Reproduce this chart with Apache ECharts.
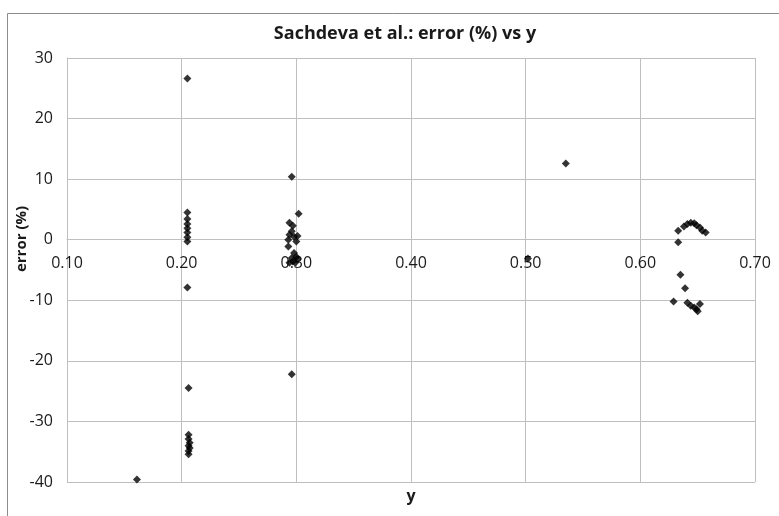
<!DOCTYPE html>
<html>
<head>
<meta charset="utf-8">
<script src="https://cdn.jsdelivr.net/npm/echarts@6/dist/echarts.min.js"></script>
<style>
html,body{margin:0;padding:0;background:#fff;}
#chart{width:779px;height:516px;}
</style>
</head>
<body>
<div id="chart"></div>
<script>
var titleText = 'Sachdeva et al.: error (%) vs y';
var xAxisTitle = 'y';
var yAxisTitle = 'error (%)';

var yValues = [
  0.161, 0.205, 0.205, 0.205, 0.205, 0.205, 0.205, 0.205, 0.205, 0.205,
  0.206, 0.206, 0.206, 0.207, 0.206, 0.207, 0.206, 0.206,
  0.296, 0.302, 0.294, 0.297, 0.296, 0.294, 0.298, 0.293, 0.300, 0.301,
  0.293, 0.298, 0.300, 0.296, 0.297, 0.294, 0.299, 0.301, 0.296,
  0.502, 0.535,
  0.629, 0.633, 0.633, 0.635, 0.639, 0.638, 0.641, 0.644, 0.647, 0.649,
  0.652, 0.654, 0.657, 0.641, 0.644, 0.647, 0.650, 0.652, 0.649
];
var errorValues = [
  -39.6, 26.6, 4.5, 3.4, 2.6, 1.9, 1.2, 0.4, -0.3, -7.9,
  -24.5, -32.2, -32.9, -33.5, -34.0, -34.4, -34.9, -35.4,
  10.4, 4.3, 2.8, 2.3, 1.4, 0.8, 0.5, 0.0, -0.3, 0.6,
  -1.1, -2.2, -2.8, -3.0, -3.6, -3.8, -3.8, -3.2, -22.2,
  -3.1, 12.6,
  -10.2, 1.5, -0.4, -5.8, -8.0, 2.2, 2.6, 2.8, 2.7, 2.4,
  2.0, 1.5, 1.2, -10.4, -10.9, -11.2, -11.8, -10.6, -11.5
];
var xTicks = {min: 0.1, max: 0.7, interval: 0.1};
var yTicks = {min: -40, max: 30, interval: 10};

var points = yValues.map(function (v, i) { return [v, errorValues[i]]; });

var gridTop = 58, gridBottom = 34, chartH = 516;
var plotH = chartH - gridTop - gridBottom;
// distance from the plot bottom to the y = 0 line, from the axis range
var zeroOffset = plotH * (0 - yTicks.min) / (yTicks.max - yTicks.min);

var chart = echarts.init(document.getElementById('chart'), null, {renderer: 'canvas'});
var labelFont = {fontFamily: 'Open Sans', fontSize: 16, color: '#1a1a1a'};
chart.setOption({
  animation: false,
  backgroundColor: '#fff',
  title: {
    text: titleText,
    left: 400,
    textAlign: 'center',
    top: 20,
    textStyle: {fontFamily: 'Open Sans', fontWeight: 'bold', fontSize: 18, color: '#1a1a1a'}
  },
  graphic: [{
    type: 'rect',
    shape: {x: 7.5, y: 13.5, width: 900, height: 700},
    style: {fill: null, stroke: '#8c8c8c', lineWidth: 1},
    silent: true
  }],
  grid: {left: 67, right: 24, top: gridTop, bottom: gridBottom, containLabel: false, outerBoundsMode: 'none'},
  xAxis: {
    type: 'value',
    position: 'bottom',
    offset: -zeroOffset,
    min: xTicks.min, max: xTicks.max, interval: xTicks.interval,
    name: xAxisTitle,
    nameLocation: 'middle',
    nameGap: 249,
    nameMoveOverlap: false,
    nameTextStyle: {fontFamily: 'Open Sans', fontWeight: 'bold', fontSize: 16, color: '#1a1a1a'},
    axisLine: {onZero: false, lineStyle: {color: '#bfbfbf'}},
    axisTick: {show: false},
    splitLine: {show: true, lineStyle: {color: '#bfbfbf'}},
    axisLabel: Object.assign({margin: 16, formatter: function (v) { return v.toFixed(2); }}, labelFont)
  },
  yAxis: {
    type: 'value',
    min: yTicks.min, max: yTicks.max, interval: yTicks.interval,
    name: yAxisTitle,
    nameLocation: 'middle',
    nameRotate: 90,
    nameGap: 38,
    nameMoveOverlap: false,
    nameTextStyle: {fontFamily: 'Open Sans', fontWeight: 'bold', fontSize: 15, color: '#1a1a1a', padding: [0, 0, 0, 62]},
    axisLine: {show: true, onZero: false, lineStyle: {color: '#bfbfbf'}},
    axisTick: {show: false},
    splitLine: {show: true, lineStyle: {color: '#bfbfbf'}},
    axisLabel: Object.assign({margin: 14}, labelFont)
  },
  series: [{
    type: 'scatter',
    data: points,
    symbol: 'diamond',
    symbolSize: 8,
    itemStyle: {color: '#000'}
  }]
});
</script>
</body>
</html>
